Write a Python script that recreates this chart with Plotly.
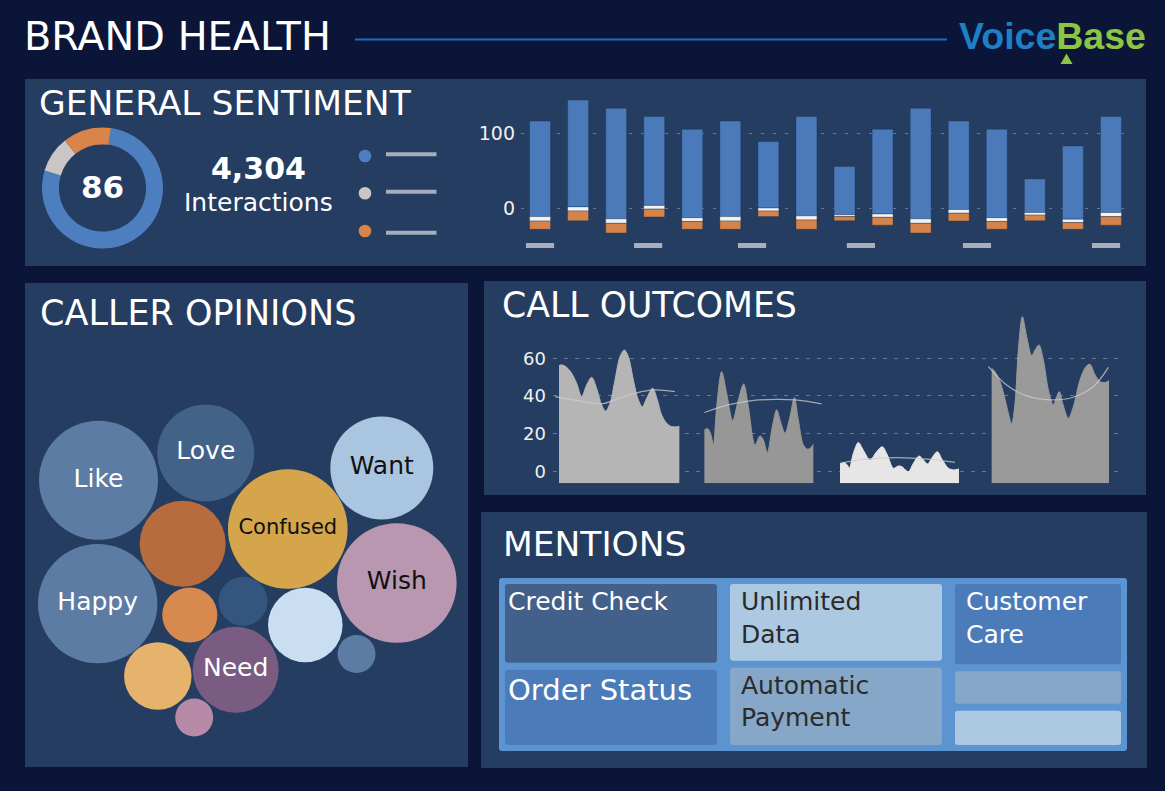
import numpy as np
import plotly.graph_objects as go

W, H = 1165, 791


def px(x):
    return x / W


def py(y):
    return 1 - y / H


BG = "#0a1538"
PANEL = "#243d61"
FONT = "DejaVu Sans"
WHITE = "#ffffff"
NB = "\u00a0"

# ---------------- General sentiment ----------------
sentiment_labels = ["Positive", "Neutral", "Negative"]
sentiment_counts = [3332, 418, 554]
sentiment_colors = ["#4d7ebf", "#c9c6c4", "#d8844b"]
sentiment_score = 86

days = [f"Day {i}" for i in range(1, 17)]
positive_top = [116.5, 144.5, 133.5, 122.5, 105.5, 116.5, 89, 122.5, 55.5, 105.5, 133.5, 116.5, 105.5, 39, 83, 122.5]
positive_base = [-11.5, 1.5, -14.5, 3.5, -13, -11.5, 0, -10.5, -9, -8, -14.5, -2, -13, -6, -15, -6]
neutral_part = [6, 5.5, 6, 5, 5, 6, 4, 5.5, 2.5, 4.5, 6, 5, 5, 3.5, 4.5, 5.5]
negative_part = [11, 13, 13, 10.5, 10.5, 11, 7.5, 12.5, 5.5, 10.5, 13, 10.5, 10.5, 7.5, 9, 11.5]
date_tick_slots = [0, 2.84, 5.57, 8.43, 11.48, 14.87]

# ---------------- Call outcomes ----------------
outcome_a_t = [0, 0.53, 1.53, 2.53, 3.53, 4.53, 5.53, 6.53, 7.53, 8.53, 9.33, 10.2, 11.2, 12.2, 13.07,
               13.87, 14.87, 15.87, 16.67, 17.53, 18.73, 19.67, 20.53, 21.53, 22.53, 24.07]
outcome_a_v = [56.1, 56.5, 55.2, 52, 46.7, 39.6, 45.8, 49.9, 44, 35.2, 32, 36.1, 48.5, 60.9, 64.4,
               60.9, 48.5, 37.9, 34.3, 38.8, 44.1, 37.9, 29.9, 25.5, 23.7, 23.7]
outcome_b_t = [29.07, 29.73, 30.4, 30.87, 31.53, 32.53, 33.53, 34.73, 35.87, 36.93, 37.87, 39.2, 40.2,
               40.87, 41.67, 42.67, 43.53, 44.4, 45.2, 46.2, 47.07, 47.87, 48.87, 49.73, 50.4, 50.87]
outcome_b_v = [21.9, 22.7, 19.3, 14, 34.3, 52.9, 41.4, 26.9, 37.9, 46.4, 34.3, 14, 18.8, 16.6, 9.9,
               23.7, 32.6, 25.5, 20.2, 29, 39.1, 27.3, 14, 11.7, 12.7, 14.3]
outcome_c_t = [56.2, 57, 57.67, 58.07, 58.87, 59.87, 60.87, 62.2, 63.53, 64.67, 65.67, 66.87, 67.87,
               68.53, 69.87, 70.87, 72, 72.87, 73.73, 74.73, 75.67, 76.67, 77.87, 78.87, 80]
outcome_c_v = [3.9, 4.6, 3.3, 1.6, 9.5, 15.3, 11.2, 6, 10.4, 13, 8.6, 1.6, 2.8, 2.5, -0.2, 4.2, 8.1,
               6, 3.9, 7.7, 10.4, 6, 1.6, 0.7, 1.2]
outcome_d_t = [86.53, 87.2, 88.2, 89, 89.87, 90.53, 91.2, 91.87, 92.67, 93.53, 94.53, 95.2, 96, 96.87,
               97.87, 98.87, 99.53, 100.07, 100.73, 101.87, 102.87, 104.2, 105.4, 106.2, 107.2, 108.2,
               109.2, 110]
outcome_d_v = [54.7, 52.9, 47.6, 40.5, 30.8, 25.1, 36.1, 64.4, 82.1, 71.5, 61.4, 64.4, 67.1, 59.1, 43.2,
               35.2, 39.6, 42.3, 36.1, 28.1, 34.3, 48.5, 55.6, 56.8, 51.2, 47.6, 47.1, 48]
trend_a_t = [-0.8, 4.2, 8.53, 11.5, 15.5, 18.9, 23.2]
trend_a_v = [39.6, 37.3, 35.8, 38.2, 41.6, 43.2, 42.3]
trend_b_t = [29.07, 33.87, 37.87, 43.2, 47.2, 52.53]
trend_b_v = [31.2, 35.2, 37.3, 38.2, 37.9, 35.8]
trend_c_t = [56.2, 60.87, 67.53, 74.2, 79.2]
trend_c_v = [4.2, 6.3, 7.2, 6.3, 4.7]
trend_d_t = [85.87, 89.53, 93.53, 98.2, 102.87, 106.87, 109.87]
trend_d_v = [55.6, 45.8, 40, 37.9, 39.3, 45, 55.2]
outcome_ticks = [0, 20, 40, 60]

# ---------------- Caller opinions ----------------
opinion_words = ["Like", "Love", "Want", "Confused", "", "Wish", "Happy", "", "", "", "", "", "Need", ""]
opinion_counts = [354, 235, 265, 358, 185, 358, 356, 60, 76, 139, 36, 114, 185, 36]
# packed-bubble layout positions (panel units)
pack_x = [73.5, 180.8, 356.8, 262.8, 157.7, 371.8, 72.7, 218, 164.8, 280.3, 331.5, 132.8, 210.7, 169.2]
pack_y = [197.3, 170, 185, 246, 260.7, 300, 320.7, 318.3, 332, 342, 371, 393, 386.7, 434.5]
opinion_colors = ["#5d7ca3", "#426287", "#a9c5df", "#d4a54b", "#b86c3e", "#b997b0", "#5d7ca3",
                  "#34567e", "#d8894d", "#c9def0", "#5d7ca3", "#e5b36b", "#7a5c82", "#b78aa8"]
opinion_text_colors = [WHITE, WHITE, "#111111", "#111111", WHITE, "#111111", WHITE,
                       WHITE, WHITE, WHITE, WHITE, WHITE, WHITE, WHITE]
opinion_font_sizes = [25, 25, 25, 21, 25, 25, 25, 25, 25, 25, 25, 25, 25, 25]

# ---------------- Mentions ----------------
mention_labels = ["Credit Check", "Order Status", "Unlimited Data", "Automatic Payment", "Customer Care", "", ""]
mention_counts = [115, 110, 112, 113, 93, 42, 44]
mention_column = [0, 0, 1, 1, 2, 2, 2]
mention_colors = ["#42608a", "#4c7bba", "#adc9e2", "#86a7c7", "#4c7bba", "#86a7c7", "#adc9e2"]
mention_text_colors = [WHITE, WHITE, "#2b2b2b", "#2b2b2b", WHITE, WHITE, WHITE]
mention_font_sizes = [25, 29, 25, 25, 25, 25, 25]
mention_indent = [0, 0, 1, 1, 1, 0, 0]
mention_wrap = [False, False, True, True, True, False, False]
CONTAINER = "#5b94d1"


def tile_text(label, indent, wrap):
    words = label.split(" ") if wrap else [label]
    return "<br>".join(NB * indent + w for w in words) if label else ""


fig = go.Figure()

# ---- donut ----
fig.add_trace(go.Pie(
    labels=sentiment_labels, values=sentiment_counts, hole=0.72, sort=False,
    direction="clockwise", rotation=8, marker=dict(colors=sentiment_colors, line=dict(width=0)),
    textinfo="none", hoverinfo="skip", showlegend=False,
    domain=dict(x=[px(42), px(163)], y=[py(248.5), py(127.5)])))

# ---- sentiment bars ----
pos_base = np.array(positive_base, dtype=float)
pos_h = np.array(positive_top) - pos_base
neu = np.array(neutral_part, dtype=float)
neg = np.array(negative_part, dtype=float)
bar_line = dict(width=1, color="rgba(25,45,80,0.35)")
fig.add_trace(go.Bar(x=days, y=pos_h, base=pos_base, width=0.55, marker=dict(color="#4a7aba", line=bar_line),
                     hoverinfo="skip", xaxis="x", yaxis="y"))
fig.add_trace(go.Bar(x=days, y=neu, base=pos_base - neu, width=0.55, marker=dict(color="#f3f3f3", line=bar_line),
                     hoverinfo="skip", xaxis="x", yaxis="y"))
fig.add_trace(go.Bar(x=days, y=neg, base=pos_base - neu - neg, width=0.55,
                     marker=dict(color="#d4834a", line=bar_line), hoverinfo="skip", xaxis="x", yaxis="y"))

# ---- call outcomes areas ----
FLOOR = -6.4
segments = [
    (outcome_a_t, outcome_a_v, "#b5b5b5"),
    (outcome_b_t, outcome_b_v, "#979797"),
    (outcome_c_t, outcome_c_v, "#e6e6e6"),
    (outcome_d_t, outcome_d_v, "#9a9a9a"),
]
for t, v, col in segments:
    fig.add_trace(go.Scatter(x=t, y=[FLOOR] * len(t), mode="lines", line=dict(width=0, color=col),
                             hoverinfo="skip", xaxis="x2", yaxis="y2"))
    fig.add_trace(go.Scatter(x=t, y=v, mode="lines", fill="tonexty", fillcolor=col,
                             line=dict(width=1, color=col, shape="spline", smoothing=0.9),
                             hoverinfo="skip", xaxis="x2", yaxis="y2"))
for t, v in [(trend_a_t, trend_a_v), (trend_b_t, trend_b_v), (trend_c_t, trend_c_v), (trend_d_t, trend_d_v)]:
    fig.add_trace(go.Scatter(x=t, y=v, mode="lines",
                             line=dict(width=1.3, color="rgba(205,205,205,0.75)", shape="spline", smoothing=1),
                             hoverinfo="skip", xaxis="x2", yaxis="y2"))

# ---- caller opinions bubbles ----
fig.add_trace(go.Scatter(
    x=pack_x, y=pack_y, mode="markers+text", text=opinion_words, textposition="middle center",
    marker=dict(size=2 * np.sqrt(10 * np.array(opinion_counts, dtype=float)), sizemode="diameter",
                color=opinion_colors, line=dict(width=0), opacity=1),
    textfont=dict(family=FONT, size=opinion_font_sizes, color=opinion_text_colors),
    hoverinfo="skip", cliponaxis=False, xaxis="x3", yaxis="y3"))

# ---- mentions treemap ----
n_cols = max(mention_column) + 1
tm_ids = ["root"] + [f"c{i}" for i in range(n_cols)] + [f"m{i}" for i in range(len(mention_labels))]
tm_parents = [""] + ["root"] * n_cols + [f"c{g}" for g in mention_column]
tm_values = [0] * (1 + n_cols) + mention_counts
tm_text = [""] * (1 + n_cols) + [tile_text(l, i, w) for l, i, w in zip(mention_labels, mention_indent, mention_wrap)]
tm_colors = [CONTAINER] * (1 + n_cols) + mention_colors
tm_tcol = ["rgba(0,0,0,0)"] * (1 + n_cols) + mention_text_colors
tm_size = [10] * (1 + n_cols) + mention_font_sizes
fig.add_trace(go.Treemap(
    ids=tm_ids, labels=tm_ids, parents=tm_parents, values=tm_values, text=tm_text,
    branchvalues="remainder", sort=False, textinfo="text", textposition="top left",
    tiling=dict(packing="slice-dice", pad=7),
    marker=dict(colors=tm_colors, pad=dict(t=3, l=3, r=3, b=3), line=dict(width=0),
                cornerradius=6, depthfade=False),
    pathbar=dict(visible=False),
    textfont=dict(family=FONT, size=tm_size, color=tm_tcol),
    hoverinfo="skip",
    domain=dict(x=[px(499), px(1127)], y=[py(751), py(578)])))

# ---- shapes ----
shapes = []
for x0, y0, x1, y1 in [(25, 79, 1146, 266), (25, 283, 468, 767), (484, 281, 1146, 495), (481, 512, 1147, 768)]:
    shapes.append(dict(type="rect", xref="paper", yref="paper", x0=px(x0), x1=px(x1), y0=py(y1), y1=py(y0),
                       fillcolor=PANEL, line=dict(width=0), layer="below"))
shapes.append(dict(type="line", xref="paper", yref="paper", x0=px(355), x1=px(947), y0=py(39.5), y1=py(39.5),
                   line=dict(color="#1a6fc0", width=2)))
shapes.append(dict(type="path", xref="paper", yref="paper",
                   path=f"M {px(1060.5)},{py(64)} L {px(1072.5)},{py(64)} L {px(1066.5)},{py(53.5)} Z",
                   fillcolor="#8cc541", line=dict(width=0)))
for (cy, ly), col in zip([(156, 154.3), (193.3, 191.7), (231, 232.7)], sentiment_colors):
    shapes.append(dict(type="circle", xref="paper", yref="paper", x0=px(358.7), x1=px(371.3),
                       y0=py(cy + 6.3), y1=py(cy - 6.3), fillcolor=col, line=dict(width=0)))
    shapes.append(dict(type="line", xref="paper", yref="paper", x0=px(386), x1=px(436.5), y0=py(ly), y1=py(ly),
                       line=dict(color="#a5aebd", width=4)))
for s in date_tick_slots:
    shapes.append(dict(type="line", xref="x", yref="paper", x0=s - 0.37, x1=s + 0.37, y0=py(245.5), y1=py(245.5),
                       line=dict(color="#a7afbd", width=5)))

# ---- annotations ----
def ann(text, x, y, size, xanchor="left", color=WHITE, family=FONT, weight="normal"):
    return dict(text=text, x=px(x), y=py(y), xref="paper", yref="paper", xanchor=xanchor, yanchor="middle",
                showarrow=False, font=dict(family=family, size=size, color=color, weight=weight))


annotations = [
    ann("BRAND HEALTH", 22, 36, 39.8),
    ann("GENERAL SENTIMENT", 37, 103, 34.5),
    ann(str(sentiment_score), 102.5, 187, 31, xanchor="center", weight="bold"),
    ann(f"{sum(sentiment_counts):,}", 258.5, 168, 30, xanchor="center", weight="bold"),
    ann("Interactions", 258, 203, 25, xanchor="center"),
    ann("CALLER OPINIONS", 38, 313.5, 35),
    ann("CALL OUTCOMES", 500, 305, 34.7),
    ann("MENTIONS", 501, 543.5, 34.5),
    ann("<span style='color:#1f7fc5'>Voice</span><span style='color:#8cc541'>Base</span>", 957, 36, 37.5,
        family="Liberation Sans", weight="bold"),
]

grid_col = "rgba(160,172,192,0.55)"
fig.update_layout(
    width=W, height=H, autosize=False, margin=dict(l=0, r=0, t=0, b=0),
    paper_bgcolor=BG, plot_bgcolor="rgba(0,0,0,0)", showlegend=False, barmode="overlay",
    shapes=shapes, annotations=annotations, hovermode=False,
    xaxis=dict(domain=[px(521), px(1130)], range=[-0.5, 15.5], showticklabels=False, showgrid=False,
               zeroline=False, showline=False, ticks="", anchor="y", fixedrange=True),
    yaxis=dict(domain=[py(245.35), py(96)], range=[-50, 150], tickvals=[0, 100], showgrid=True,
               gridcolor=grid_col, griddash="3px,9px", gridwidth=1, zeroline=False, showline=False, ticks="",
               tickfont=dict(family=FONT, size=19, color="#f0f0f0"), ticklabelstandoff=5, anchor="x",
               fixedrange=True),
    xaxis2=dict(domain=[px(553), px(1118)], range=[-1.2, 111.8], visible=False, anchor="y2", fixedrange=True),
    yaxis2=dict(domain=[py(483.3), py(311.2)], range=[FLOOR, 85], tickvals=outcome_ticks, showgrid=True,
                gridcolor=grid_col, griddash="4px,7px", gridwidth=1, zeroline=False, showline=False, ticks="",
                tickfont=dict(family=FONT, size=18, color="#f0f0f0"), ticklabelstandoff=6, anchor="x2",
                fixedrange=True),
    xaxis3=dict(domain=[px(25), px(468)], range=[0, 443], visible=False, anchor="y3", fixedrange=True),
    yaxis3=dict(domain=[py(767), py(283)], range=[484, 0], visible=False, anchor="x3", fixedrange=True),
)

fig.write_html("out.html", config={"displayModeBar": False},
               post_script="document.body.style.margin='0';document.body.style.overflow='hidden';")
